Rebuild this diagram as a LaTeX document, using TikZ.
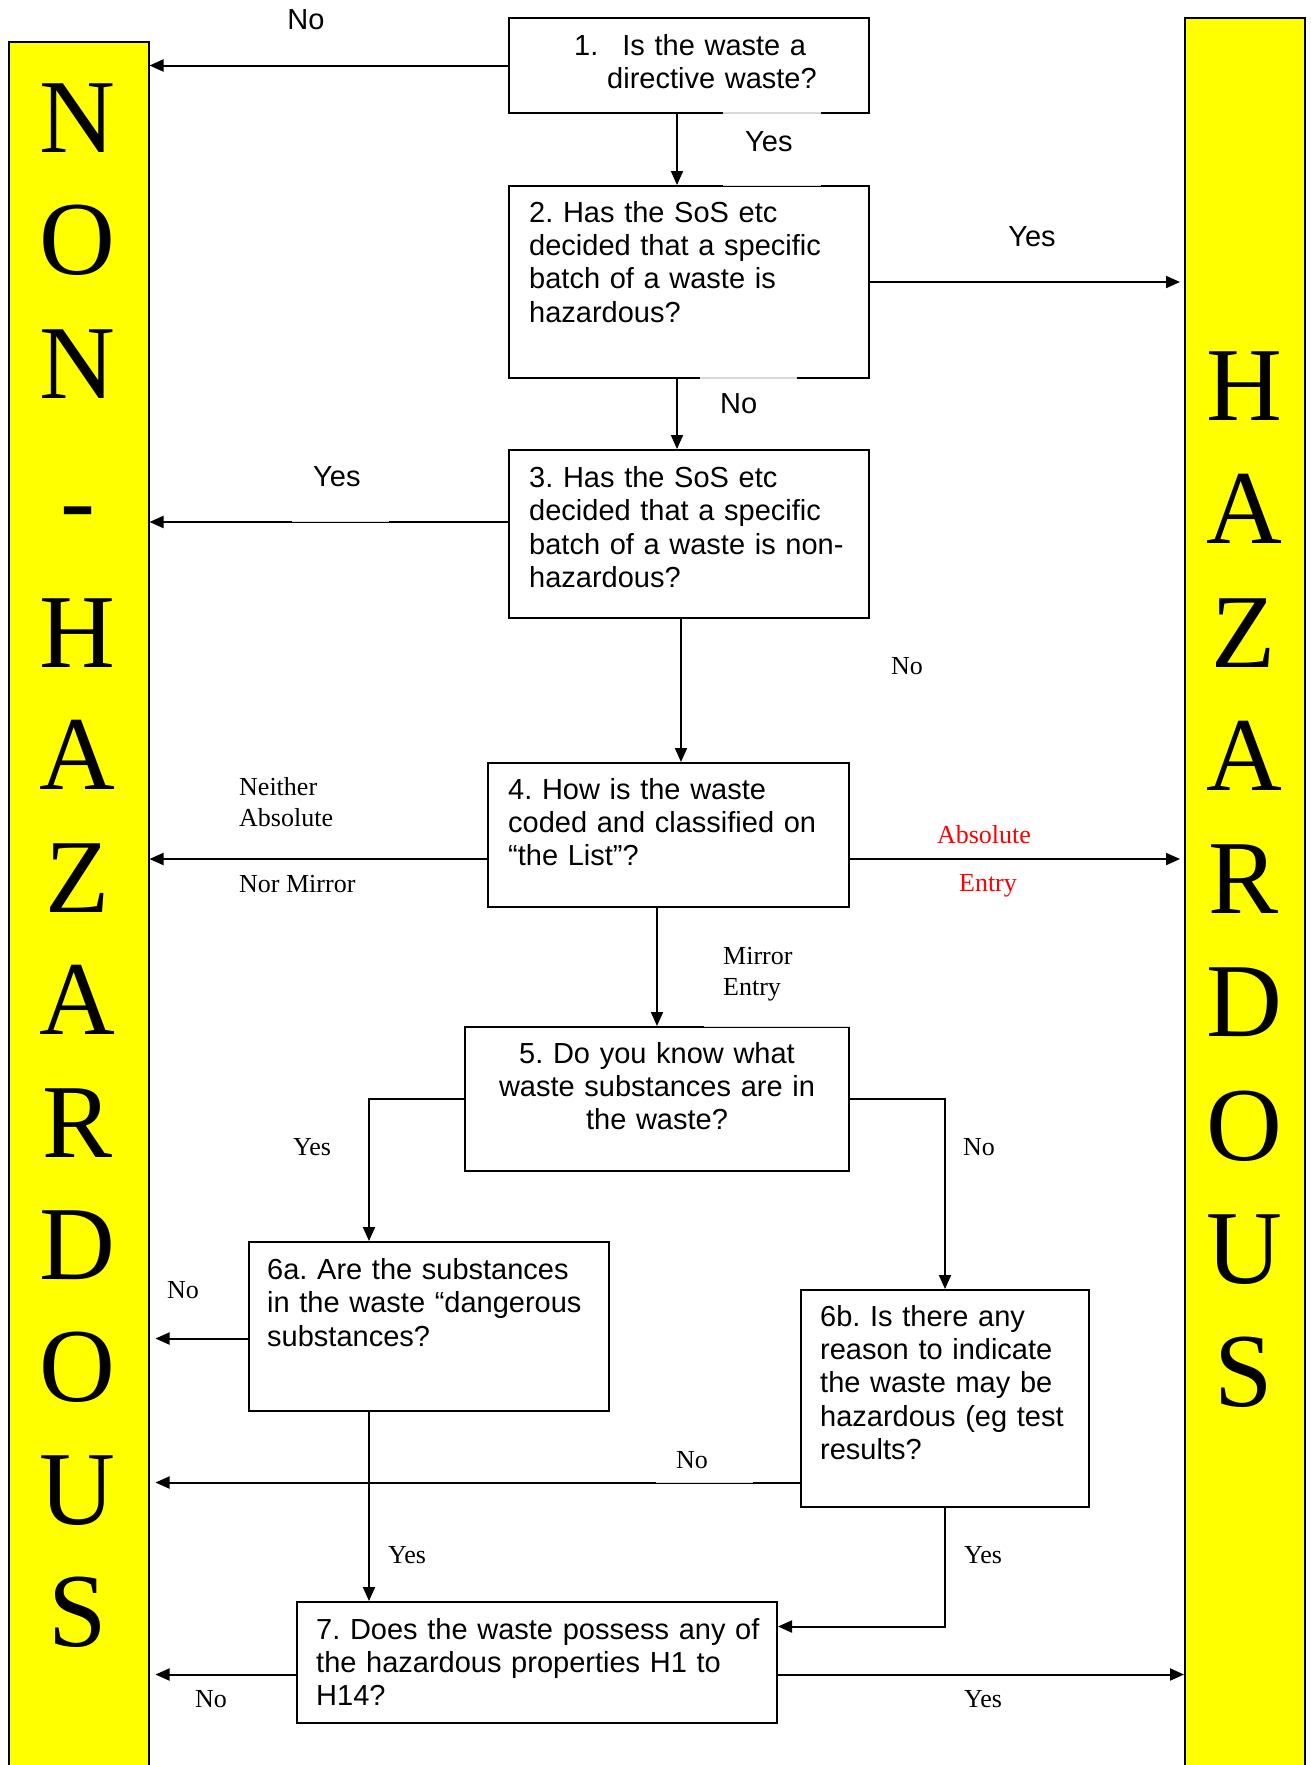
\documentclass[tikz,border=0pt]{standalone}
\usepackage{fontspec}
\setmainfont{Liberation Serif}
\setsansfont{Liberation Sans}
\usetikzlibrary{arrows.meta}
\definecolor{barfill}{RGB}{255,255,0}
\frenchspacing

\begin{document}
\begin{tikzpicture}[x = 1pt, y = -1pt,
  bar/.style = {draw, fill=barfill, line width=2pt, inner sep=0pt, anchor=north west},
  big/.style = {font=\fontsize{105}{105}\selectfont, inner sep=0pt, anchor=base},
  qbox/.style = {draw, line width=2pt, inner sep=0pt, anchor=north west},
  qtext/.style = {font=\sffamily\fontsize{29}{33.4}\selectfont, inner sep=0pt, anchor=base west, text width=#1, align=left},
  flow/.style = {line width=2pt, -{Triangle[length=14pt, width=12pt]}},
  ans/.style = {font=\fontsize{26}{31}\selectfont, inner sep=0pt, anchor=base},
  sans/.style = {font=\sffamily\fontsize{29}{33.4}\selectfont, inner sep=0pt, anchor=base},
  gap/.style = {fill=white, fill opacity=0.85, text opacity=1, anchor=base west, inner ysep=0pt, align=left}]
\useasboundingbox (0,0) rectangle (1310,1765);
\node [bar, minimum width=140pt, minimum height=1760pt] (nonhaz) at (7.5,41) {};
\node [bar, minimum width=120pt, minimum height=1780pt] (haz) at (1184,17) {};
\foreach \ch/\yy [count=\i] in {N/152, O/274, N/398, -/535, H/667, A/789, Z/912, A/1034, R/1157, D/1279, O/1401, U/1524, S/1646}
  \node [big] (nonhaz-\i) at (77.5,\yy) {\ch};
\foreach \ch/\yy [count=\i] in {H/420, A/543, Z/667, A/790, R/913, D/1036, O/1160, U/1283, S/1406}
  \node [big] (haz-\i) at (1244,\yy) {\ch};

\node [qbox, minimum width=360pt, minimum height=95pt] (q1) at (508,17) {};
\node [qbox, minimum width=360pt, minimum height=192pt] (q2) at (508,185) {};
\node [qbox, minimum width=360pt, minimum height=168pt] (q3) at (508,449) {};
\node [qbox, minimum width=361pt, minimum height=144pt] (q4) at (487,762) {};
\node [qbox, minimum width=384pt, minimum height=144pt] (q5) at (464,1026) {};
\node [qbox, minimum width=360pt, minimum height=169pt] (q6a) at (248,1241) {};
\node [qbox, minimum width=288pt, minimum height=217pt] (q6b) at (800,1289) {};
\node [qbox, minimum width=480pt, minimum height=121pt] (q7) at (296,1601) {};

\node [qtext=290pt] (t1) at ([shift={(66pt,-38pt)}]q1.north west) {1.\hspace{24pt}Is the waste a\\\hspace*{33pt}directive waste?};
\node [qtext=335pt] (t2) at ([shift={(21pt,-37pt)}]q2.north west) {2. Has the SoS etc\\decided that a specific\\batch of a waste is\\hazardous?};
\node [qtext=335pt] (t3) at ([shift={(21pt,-38.5pt)}]q3.north west) {3. Has the SoS etc\\decided that a specific\\batch of a waste is non-\\hazardous?};
\node [qtext=335pt] (t4) at ([shift={(21pt,-37pt)}]q4.north west) {4. How is the waste\\coded and classified on\\“the List”?};
\node [qtext=370pt, align=center, anchor=base] (t5) at ([yshift=-37pt]q5.north) {5. Do you know what\\waste substances are in\\the waste?};
\node [qtext=335pt] (t6a) at ([shift={(19pt,-38.5pt)}]q6a.north west) {6a. Are the substances\\in the waste “dangerous\\substances?};
\node [qtext=265pt] (t6b) at ([shift={(20pt,-37pt)}]q6b.north west) {6b. Is there any\\reason to indicate\\the waste may be\\hazardous (eg test\\results?};
\node [qtext=455pt] (t7) at ([shift={(20pt,-38pt)}]q7.north west) {7. Does the waste possess any of\\the hazardous properties H1 to\\H14?};

\draw [flow] (q1.west) -- (q1.west -| nonhaz.east);
\draw [flow] ([xshift=-12pt]q1.south) -- ([xshift=-12pt]q1.south |- q2.north);
\draw [flow, shorten >=4pt] (q2.east) -- (q2.east -| haz.west);
\draw [flow] ([xshift=-12pt]q2.south) -- ([xshift=-12pt]q2.south |- q3.north);
\draw [flow] ([yshift=12pt]q3.west) -- ([yshift=12pt]q3.west -| nonhaz.east);
\draw [flow] ([xshift=-8pt]q3.south) -- ([xshift=-8pt]q3.south |- q4.north);
\draw [flow] ([yshift=-24pt]q4.west) -- ([yshift=-24pt]q4.west -| nonhaz.east);
\draw [flow, shorten >=4pt] ([yshift=-24pt]q4.east) -- ([yshift=-24pt]q4.east -| haz.west);
\draw [flow] (q5.north |- q4.south) -- (q5.north);
\draw [flow] (q5.west) -| ([xshift=-60pt]q6a.north);
\draw [flow] (q5.east) -| (q6b.north);
\draw [flow, shorten >=6pt] ([yshift=-12pt]q6a.west) -- ([yshift=-12pt]q6a.west -| nonhaz.east);
\draw [flow, shorten >=6pt] ([yshift=-84pt]q6b.west) -- ([yshift=-84pt]q6b.west -| nonhaz.east);
\draw [flow] ([xshift=-60pt]q6a.south) -- ([xshift=-60pt]q6a.south |- q7.north);
\draw [flow] (q6b.south) |- ([yshift=36pt]q7.east);
\draw [flow, shorten >=6pt] ([yshift=-12pt]q7.west) -- ([yshift=-12pt]q7.west -| nonhaz.east);
\draw [flow] ([yshift=-12pt]q7.east) -- ([yshift=-12pt]q7.east -| haz.west);

\node [sans] (no1) at (306,29) {No};
\node [sans, gap, inner xsep=22pt, text width=54pt, text height=39pt, text depth=35pt] (yes1) at (723,151) {Yes};
\node [sans] (yes2) at (1032,246) {Yes};
\node [sans, gap, inner xsep=20pt, text width=57pt, text height=36pt, text depth=36pt] (no2) at (700,413) {No};
\node [sans, gap, inner xsep=21pt, text width=55pt, text height=36pt, text depth=36pt] (yes3) at (292,486) {Yes};
\node [ans] (no3) at (907,674) {No};
\node [ans, anchor=base west, text width=110pt, align=left] (neither) at (239,795) {Neither\\Absolute};
\node [ans, anchor=base west] (normirror) at (239,892) {Nor Mirror};
\node [ans, red] (absolute) at (984,843) {Absolute};
\node [ans, red] (entry) at (988,891) {Entry};
\node [ans, gap, inner xsep=19pt, text width=108pt, text height=34pt, text depth=63pt] (mirror) at (704,964) {Mirror\\Entry};
\node [ans] (yes5) at (312,1155) {Yes};
\node [ans] (no5) at (979,1155) {No};
\node [ans] (no6a) at (183,1298) {No};
\node [ans, gap, inner xsep=20pt, text width=57pt, text height=38pt, text depth=15pt] (no6b) at (656,1468) {No};
\node [ans] (yes6a) at (407,1563) {Yes};
\node [ans] (yes6b) at (983,1563) {Yes};
\node [ans] (no7) at (211,1707) {No};
\node [ans] (yes7) at (983,1707) {Yes};
\end{tikzpicture}
\end{document}
